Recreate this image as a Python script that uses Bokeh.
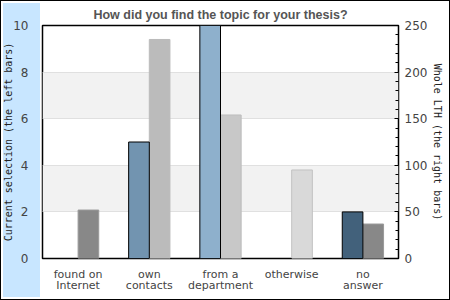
from bokeh.plotting import figure
from bokeh.models import (Range1d, LinearAxis, FactorRange,
                          ColumnDataSource, FixedTicker, SingleIntervalTicker)
from bokeh.transform import dodge
from bokeh.embed import file_html
from bokeh.resources import INLINE

# ---- data ----
categories = ["found on\nInternet", "own\ncontacts", "from a\ndepartment", "otherwise", "no\nanswer"]
current_selection = [0, 5, 10, 0, 2]          # left axis (0..10)
whole_lth = [52, 235, 154, 95, 37]            # right axis (0..250)
left_ticks = [0, 2, 4, 6, 8, 10]
right_ticks = [0, 50, 100, 150, 200, 250]
title_text = "How did you find the topic for your thesis?"
left_label = "Current selection (the left bars)"
right_label = "Whole LTH (the right bars)"

# ---- styles ----
left_fill = ["#7294b0", "#7294b0", "#8eb0cc", "#8eb0cc", "#42617b"]
right_fill = ["#888888", "#bbbbbb", "#c8c8c8", "#d9d9d9", "#888888"]
right_line = ["#9a9a9a", "#bbbbbb", "#bdbdbd", "#c2c2c2", "#9a9a9a"]

src = ColumnDataSource(dict(cat=categories, cur=current_selection, lth=whole_lth,
                            lf=left_fill, rf=right_fill, rl=right_line))

p = figure(width=450, height=300, output_backend="svg", toolbar_location=None,
           x_range=FactorRange(factors=categories, range_padding=0),
           y_range=Range1d(0, 10),
           min_border_left=40, min_border_right=52, min_border_top=25, min_border_bottom=42)
p.extra_y_ranges = {"right": Range1d(0, 250)}

p.background_fill_color = "white"
p.border_fill_alpha = 0
p.outline_line_color = "black"
p.outline_line_width = 1.5
p.styles = {
    "background": "#ffffff linear-gradient(#c8e6ff, #c8e6ff) no-repeat 3px 3px / 37px 294px",
    "outline": "1px solid black",
    "outline-offset": "-1px",
}

# bars
w = 0.29
p.vbar(x=dodge("cat", w / 2, range=p.x_range), top="lth", width=w, source=src,
       fill_color="rf", line_color="rl", line_width=1, y_range_name="right")
p.vbar(x=dodge("cat", -w / 2, range=p.x_range), top="cur", width=w, source=src,
       fill_color="lf", line_color="black", line_width=1)

# grid
p.xgrid.grid_line_color = None
p.ygrid.ticker = FixedTicker(ticks=left_ticks)
p.ygrid.grid_line_color = "#e0e0e0"
p.ygrid.band_fill_color = "#f2f2f2"
p.ygrid.band_fill_alpha = 1

# left axis
ya = p.yaxis[0]
ya.ticker = FixedTicker(ticks=left_ticks)
ya.axis_line_color = None
ya.major_tick_line_color = None
ya.minor_tick_line_color = None
ya.major_label_standoff = 8
ya.major_label_text_font = "DejaVu Sans"
ya.major_label_text_font_size = "12px"
ya.major_label_text_color = "#444444"
ya.axis_label = left_label
ya.axis_label_text_font = "DejaVu Sans Mono"
ya.axis_label_text_font_size = "10px"
ya.axis_label_text_font_style = "normal"
ya.axis_label_text_color = "#222222"
ya.axis_label_standoff = -4

# right axis
ra = LinearAxis(y_range_name="right", ticker=SingleIntervalTicker(interval=50, num_minor_ticks=5))
ra.axis_line_color = None
ra.major_tick_in = 4
ra.major_tick_out = 0
ra.minor_tick_in = 3
ra.minor_tick_out = 0
ra.major_tick_line_color = "black"
ra.minor_tick_line_color = "black"
ra.major_label_standoff = 6
ra.major_label_text_font = "DejaVu Sans"
ra.major_label_text_font_size = "12px"
ra.major_label_text_color = "#444444"
ra.axis_label = right_label
ra.axis_label_text_font = "DejaVu Sans Mono"
ra.axis_label_text_font_size = "10px"
ra.axis_label_text_font_style = "normal"
ra.axis_label_text_color = "#222222"
ra.axis_label_standoff = 2
p.add_layout(ra, "right")

# x axis
xa = p.xaxis[0]
xa.axis_line_color = None
xa.major_tick_line_color = None
xa.minor_tick_line_color = None
xa.major_label_standoff = 3
xa.major_label_text_font = "DejaVu Sans"
xa.major_label_text_font_size = "11px"
xa.major_label_text_color = "#444444"
xa.major_label_text_line_height = 0.9

# title
p.title.text = title_text
p.title.align = "center"
p.title.offset = 6
p.title.standoff = 8
p.title.text_font = "Liberation Sans"
p.title.text_font_size = "12.5px"
p.title.text_font_style = "bold"
p.title.text_color = "#555555"

open("out.html", "w").write(file_html(p, INLINE))
